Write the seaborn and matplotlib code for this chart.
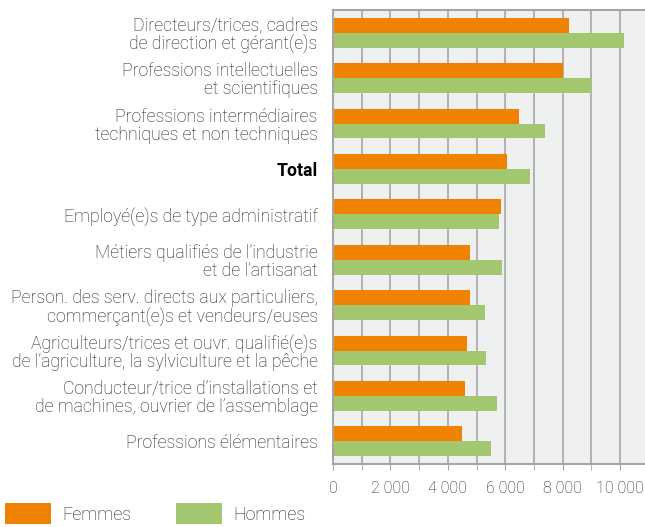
import numpy as np
import pandas as pd
import matplotlib
matplotlib.use('Agg')
import matplotlib.pyplot as plt
import seaborn as sns
from matplotlib.patches import Patch
from matplotlib.ticker import MultipleLocator, FixedLocator

categories = [
    "Directeurs/trices, cadres\nde direction et gérant(e)s",
    "Professions intellectuelles\net scientifiques",
    "Professions intermédiaires\ntechniques et non techniques",
    "Total",
    "Employé(e)s de type administratif",
    "Métiers qualifiés de l’industrie\net de l’artisanat",
    "Person. des serv. directs aux particuliers,\ncommerçant(e)s et vendeurs/euses",
    "Agriculteurs/trices et ouvr. qualifié(e)s\nde l’agriculture, la sylviculture et la pêche",
    "Conducteur/trice d’installations et\nde machines, ouvrier de l’assemblage",
    "Professions élémentaires",
]
femmes = [8220, 8010, 6480, 6060, 5850, 4770, 4770, 4660, 4590, 4490]
hommes = [10140, 8990, 7380, 6860, 5780, 5880, 5290, 5330, 5710, 5500]
series = ["Femmes", "Hommes"]
tick_values = [0, 2000, 4000, 6000, 8000, 10000]
tick_labels = ["0", "2 000", "4 000", "6 000", "8 000", "10 000"]

colors = {"Femmes": "#EF8200", "Hommes": "#A2C76E"}

df = pd.DataFrame({
    "cat": categories * 2,
    "val": femmes + hommes,
    "sexe": ["Femmes"] * len(categories) + ["Hommes"] * len(categories),
})

sns.set_style("white")
plt.rcParams['font.family'] = ['Roboto', 'DejaVu Sans']
plt.rcParams['font.weight'] = 'light'

fig = plt.figure(figsize=(6.45, 5.27), dpi=100)
W, H = 645, 527
ax = fig.add_axes([333 / W, (H - 464) / H, (645 - 333) / W, (464 - 10) / H])
ax.set_facecolor("#EFF1F0")

sns.barplot(data=df, y="cat", x="val", hue="sexe", hue_order=series,
            palette=colors, orient="h", width=0.66, saturation=1,
            linewidth=0, ax=ax, legend=False)

ax.set_xlim(0, 10870)
ax.set_ylim(len(categories) - 0.5, -0.5)
ax.xaxis.set_major_locator(FixedLocator(tick_values))
ax.set_xticklabels(tick_labels)
ax.xaxis.set_minor_locator(MultipleLocator(1000))
ax.grid(axis="x", which="both", color="#A6A6A6", linewidth=1.2)
ax.set_axisbelow(True)
ax.tick_params(axis="x", which="both", length=4, color="#A6A6A6",
               labelsize=11.5, labelcolor="#1E1E1E", pad=8, bottom=True)
ax.tick_params(axis="y", length=0, labelsize=12.7, labelcolor="#1E1E1E", pad=11)
for lab in ax.get_yticklabels():
    lab.set_linespacing(1.0)
    lab.set_fontweight("light")
ax.get_yticklabels()[3].set_fontweight("bold")
ax.get_yticklabels()[3].set_color("#000000")
ax.set_xlabel("")
ax.set_ylabel("")

for side in ["left", "top", "bottom"]:
    ax.spines[side].set_color("#A6A6A6")
    ax.spines[side].set_linewidth(1.5)
ax.spines["right"].set_visible(False)

handles = [Patch(facecolor=colors[s], edgecolor="none", label=s) for s in series]
fig.legend(handles=handles, loc="lower left", bbox_to_anchor=(-0.011, -0.018),
           ncol=2, frameon=False, fontsize=12.9, handlelength=2.55,
           handleheight=1.4, handletextpad=0.62, columnspacing=2.5,
           borderpad=0.2, labelcolor="#1E1E1E")

fig.savefig("out.png", dpi=100)
